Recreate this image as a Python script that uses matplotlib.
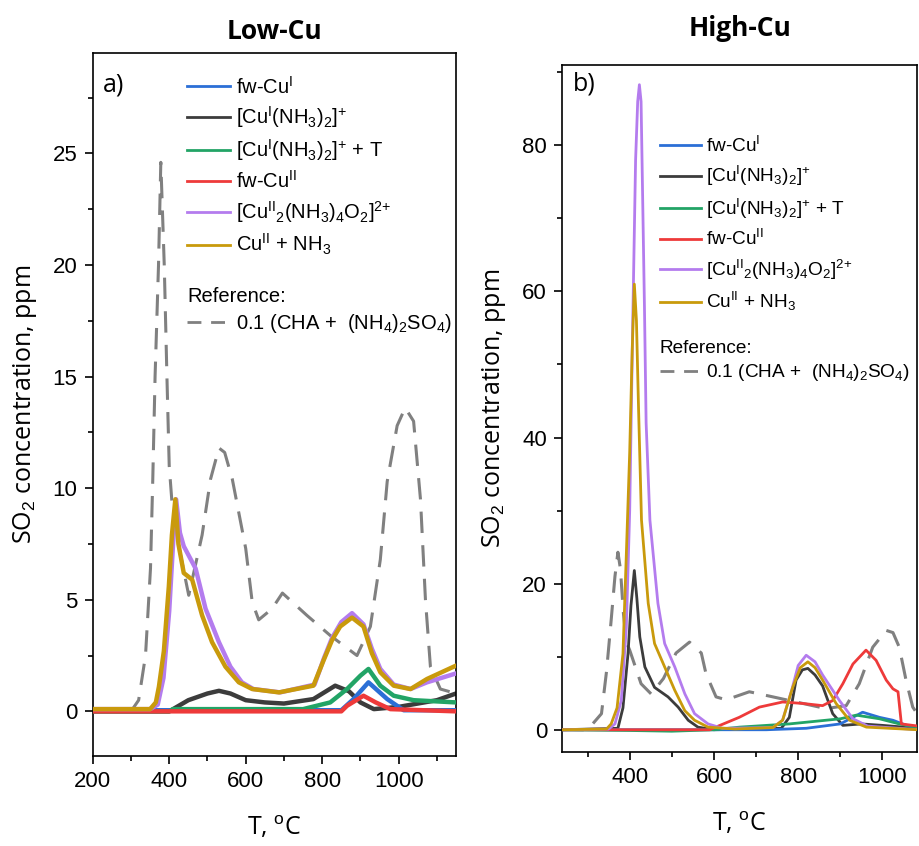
import matplotlib
matplotlib.use("Agg")
import matplotlib.pyplot as plt
from matplotlib.lines import Line2D
from matplotlib.ticker import MultipleLocator

plt.rcParams["font.family"] = ["Liberation Sans", "DejaVu Sans"]
plt.rcParams["mathtext.fontset"] = "custom"
plt.rcParams["mathtext.rm"] = "Liberation Sans"
plt.rcParams["mathtext.it"] = "Liberation Sans:italic"
plt.rcParams["mathtext.bf"] = "Liberation Sans:bold"

# ---- Low-Cu panel (a) ----
low_ref_T = [200, 300, 320, 338, 351, 357, 363, 372, 378, 387, 394, 400, 407, 425, 451,
             486, 508, 530, 545, 565, 600, 617, 634, 669, 696, 760, 821, 891, 926, 952,
             970, 996, 1017, 1039, 1057, 1070, 1083, 1109, 1150]
low_ref_y = [0, 0, 0.5, 2.5, 6.4, 10.4, 15, 20, 24.6, 20, 15, 11, 9.4, 7.4, 5.2,
             7.9, 10.4, 11.8, 11.6, 10.4, 7.3, 4.9, 4.1, 4.6, 5.3, 4.3, 3.4, 2.5, 3.8, 6.8,
             10.3, 12.8, 13.6, 13.0, 9.5, 5.0, 2.0, 1.0, 0.8]

low_T_fwCuI = [200, 850, 882, 921, 970, 1013, 1150]
low_y_fwCuI = [0.05, 0.05, 0.55, 1.3, 0.55, 0.05, 0.05]

low_T_CuINH3 = [200, 400, 450, 500, 530, 560, 600, 650, 700, 777, 834, 870, 900, 935,
                1000, 1100, 1150]
low_y_CuINH3 = [0, 0, 0.5, 0.8, 0.92, 0.8, 0.5, 0.4, 0.35, 0.55, 1.15, 0.9, 0.4, 0.1,
                0.2, 0.5, 0.8]

low_T_CuINH3_T = [200, 400, 410, 750, 821, 865, 900, 921, 952, 987, 1039, 1150]
low_y_CuINH3_T = [0, 0, 0.1, 0.1, 0.4, 1.0, 1.6, 1.9, 1.15, 0.7, 0.5, 0.4]

low_T_fwCuII = [200, 850, 865, 908, 940, 978, 1150]
low_y_fwCuII = [0, 0, 0.25, 0.7, 0.4, 0.1, 0]

low_T_dimer = [200, 350, 370, 385, 400, 410, 418, 428, 438, 469, 495, 530, 560, 590, 620,
               690, 780, 805, 826, 850, 878, 908, 930, 952, 987, 1031, 1074, 1150]
low_y_dimer = [0.1, 0.1, 0.3, 1.5, 4.5, 7.5, 9.5, 8.0, 7.4, 6.4, 4.6, 3.1, 2.0, 1.3, 1.0,
               0.85, 1.2, 2.4, 3.3, 4.0, 4.4, 3.9, 2.8, 1.9, 1.2, 1.0, 1.3, 1.7]

low_T_CuIINH3 = [200, 350, 365, 373, 386, 399, 407, 416, 424, 438, 460, 486, 512, 547,
                 582, 617, 687, 777, 804, 826, 847, 878, 908, 930, 952, 987, 1031, 1074, 1150]
low_y_CuIINH3 = [0.1, 0.1, 0.4, 1.1, 2.7, 5.6, 7.9, 9.5, 7.5, 6.2, 5.9, 4.3, 3.1, 2.0,
                 1.3, 1.0, 0.85, 1.15, 2.3, 3.2, 3.8, 4.2, 3.8, 2.6, 1.75, 1.15, 1.0, 1.45, 2.05]

# ---- High-Cu panel (b) ----
high_ref_T = [240, 300, 333, 345, 356, 365, 372, 378, 385, 392, 400, 427, 451, 480, 510,
              542, 570, 581, 605, 629, 684, 740, 811, 866, 914, 945, 977, 1009, 1025, 1040,
              1056, 1072, 1085]
high_ref_y = [0, 0, 2.2, 8, 15, 21, 24.3, 22, 16, 12, 10.9, 6.3, 4.9, 7, 10.5,
              12, 10.5, 7.7, 4.5, 4.1, 5.2, 4.5, 3.6, 2.9, 3.3, 6.3, 11.3, 13.6, 13.3, 11.3,
              6.8, 3.1, 2.0]

high_T_fwCuI = [240, 724, 819, 900, 953, 993, 1025, 1057, 1085]
high_y_fwCuI = [0, 0, 0.2, 0.8, 2.4, 1.7, 1.3, 0.6, 0.3]

high_T_CuINH3 = [240, 372, 384, 396, 403, 411, 417, 424, 436, 459, 491, 515, 539, 562, 600,
                 760, 779, 795, 810, 823, 840, 858, 882, 906, 950, 1000, 1085]
high_y_CuINH3 = [0, 0.2, 3, 10.4, 17, 21.8, 18, 12.7, 8.6, 5.8, 4.5, 3.1, 1.3, 0.36, 0,
                 0.2, 1.7, 6.8, 8.2, 8.4, 7.5, 6.0, 2.2, 0.6, 0.8, 0.6, 0.2]

high_T_CuINH3_T = [240, 400, 500, 600, 661, 779, 900, 938, 993, 1040, 1085]
high_y_CuINH3_T = [0, -0.1, -0.2, 0, 0.36, 0.8, 1.5, 2.0, 1.5, 0.8, 0.3]

high_T_fwCuII = [240, 590, 610, 660, 708, 763, 811, 858, 882, 906, 930, 961, 985, 1009,
                 1025, 1037, 1045, 1085]
high_y_fwCuII = [0, 0, 0.5, 1.7, 3.1, 3.8, 3.6, 3.3, 4.0, 6.3, 9.0, 10.9, 9.5, 6.8,
                 5.6, 5.2, 0.8, 0.5]

high_T_dimer = [240, 350, 365, 380, 392, 400, 407, 414, 419, 423, 427, 431, 435, 439, 448,
                467, 483, 507, 531, 554, 586, 620, 740, 763, 785, 800, 819, 840, 858, 898,
                930, 965, 1085]
high_y_dimer = [0, 0.1, 0.8, 4, 14, 30, 55, 78, 86, 88.3, 86, 72, 58, 42, 28.7,
                17.3, 11.8, 8.6, 4.9, 2.2, 0.8, 0.2, 0.3, 1.3, 5.5, 8.8, 10.2, 9.3, 7.5, 4.0,
                1.5, 0.5, 0]

high_T_CuIINH3 = [240, 345, 356, 370, 384, 392, 400, 406, 411, 416, 421, 428, 444, 459, 483,
                  507, 531, 554, 586, 650, 740, 763, 787, 805, 823, 840, 858, 890, 922, 962,
                  1085]
high_y_CuIINH3 = [0, 0.1, 0.8, 3, 10.4, 24, 38, 52, 61, 56, 44, 28.7, 17.3, 11.8, 8.6,
                  5.4, 2.6, 1.3, 0.36, 0.1, 0.3, 1.3, 5.8, 8.5, 9.3, 8.5, 6.8, 3.6, 1.3, 0.36,
                  0]

labels = [r"fw-Cu$^{\mathrm{I}}$",
          r"[Cu$^{\mathrm{I}}$(NH$_3$)$_2$]$^{+}$",
          r"[Cu$^{\mathrm{I}}$(NH$_3$)$_2$]$^{+}$ + T",
          r"fw-Cu$^{\mathrm{II}}$",
          r"[Cu$^{\mathrm{II}}$$_2$(NH$_3$)$_4$O$_2$]$^{2{+}}$",
          r"Cu$^{\mathrm{II}}$ + NH$_3$"]
ref_label = r"0.1 (CHA +  (NH$_4$)$_2$SO$_4$)"
colors = ["#2b6fd6", "#3c3c3c", "#22a466", "#ee3a3a", "#b47cee", "#c99a0c"]
ref_color = "#808080"
ref_dash = (0, (7, 4))

low_series = [(low_T_fwCuI, low_y_fwCuI), (low_T_CuINH3, low_y_CuINH3),
              (low_T_CuINH3_T, low_y_CuINH3_T), (low_T_fwCuII, low_y_fwCuII),
              (low_T_dimer, low_y_dimer), (low_T_CuIINH3, low_y_CuIINH3)]
high_series = [(high_T_fwCuI, high_y_fwCuI), (high_T_CuINH3, high_y_CuINH3),
               (high_T_CuINH3_T, high_y_CuINH3_T), (high_T_fwCuII, high_y_fwCuII),
               (high_T_dimer, high_y_dimer), (high_T_CuIINH3, high_y_CuIINH3)]
# draw order: black under blue/green/red, then purple, gold on top
z_order = [3, 2, 4, 5, 6, 7]

fig = plt.figure(figsize=(9.2, 8.46), dpi=100)
ax_a = fig.add_axes([0.1008, 0.1064, 0.3949, 0.831])
ax_b = fig.add_axes([0.6112, 0.1115, 0.3855, 0.8117])

label_font = dict(family=["Open Sans", "DejaVu Sans"], size=18)


def style_axis(ax):
    for s in ax.spines.values():
        s.set_linewidth(1.2)
    ax.tick_params(which="major", direction="out", length=6, width=1.2,
                   labelsize=16, pad=5)
    ax.tick_params(which="minor", direction="out", length=3.5, width=1.2)
    ax.set_xlabel("T, $^{\\mathrm{o}}$C", fontdict=label_font, labelpad=16)
    ax.set_ylabel("SO$_2$ concentration, ppm", fontdict=label_font, labelpad=10)


def draw_panel(ax, series, ref_T, ref_y, lw):
    ax.plot(ref_T, ref_y, color=ref_color, lw=2.2, linestyle=ref_dash, zorder=1)
    handles = []
    for (T, y), c, z, lab in zip(series, colors, z_order, labels):
        ax.plot(T, y, color=c, lw=lw, zorder=z, solid_capstyle="round")
        handles.append(Line2D([], [], color=c, lw=2, label=lab))
    return handles


def add_legends(ax, handles, x0, y0, y_ref, fs, spacing):
    leg_kw = dict(frameon=False, fontsize=fs, handlelength=2.15, handletextpad=0.25,
                  borderaxespad=0, borderpad=0, loc="upper left")
    leg1 = ax.legend(handles=handles, bbox_to_anchor=(x0, y0), labelspacing=spacing,
                     **leg_kw)
    ax.add_artist(leg1)
    ref_h = Line2D([], [], color=ref_color, lw=2, linestyle=(0, (5, 3.5)), label=ref_label)
    leg2 = ax.legend(handles=[ref_h], bbox_to_anchor=(x0, y_ref), title="Reference:",
                     title_fontsize=fs, alignment="left", **leg_kw)
    leg2._legend_box.sep = 4


# panel a
h = draw_panel(ax_a, low_series, low_ref_T, low_ref_y, 3.2)
ax_a.set_xlim(200, 1150)
ax_a.set_ylim(-2, 29.5)
ax_a.xaxis.set_major_locator(MultipleLocator(200))
ax_a.xaxis.set_minor_locator(MultipleLocator(100))
ax_a.yaxis.set_major_locator(MultipleLocator(5))
ax_a.yaxis.set_minor_locator(MultipleLocator(2.5))
style_axis(ax_a)
add_legends(ax_a, h, 0.26, 0.968, 0.667, 14.5, 0.35)
ax_a.text(0.028, 0.954, "a)", transform=ax_a.transAxes, va="center", ha="left",
          fontsize=18, family=["Open Sans", "DejaVu Sans"])
ax_a.set_title("Low-Cu", fontsize=19, fontweight="bold",
               family=["Open Sans", "DejaVu Sans"], pad=10)

# panel b
h = draw_panel(ax_b, high_series, high_ref_T, high_ref_y, 2.0)
ax_b.set_xlim(240, 1082)
ax_b.set_ylim(-3, 91)
ax_b.xaxis.set_major_locator(MultipleLocator(200))
ax_b.xaxis.set_minor_locator(MultipleLocator(100))
ax_b.yaxis.set_major_locator(MultipleLocator(20))
ax_b.yaxis.set_minor_locator(MultipleLocator(10))
style_axis(ax_b)
add_legends(ax_b, h, 0.275, 0.897, 0.600, 13.7, 0.44)
ax_b.text(0.03, 0.973, "b)", transform=ax_b.transAxes, va="center", ha="left",
          fontsize=18, family=["Open Sans", "DejaVu Sans"])
ax_b.set_title("High-Cu", fontsize=19, fontweight="bold",
               family=["Open Sans", "DejaVu Sans"], pad=21)

fig.savefig("out.png", dpi=100)
